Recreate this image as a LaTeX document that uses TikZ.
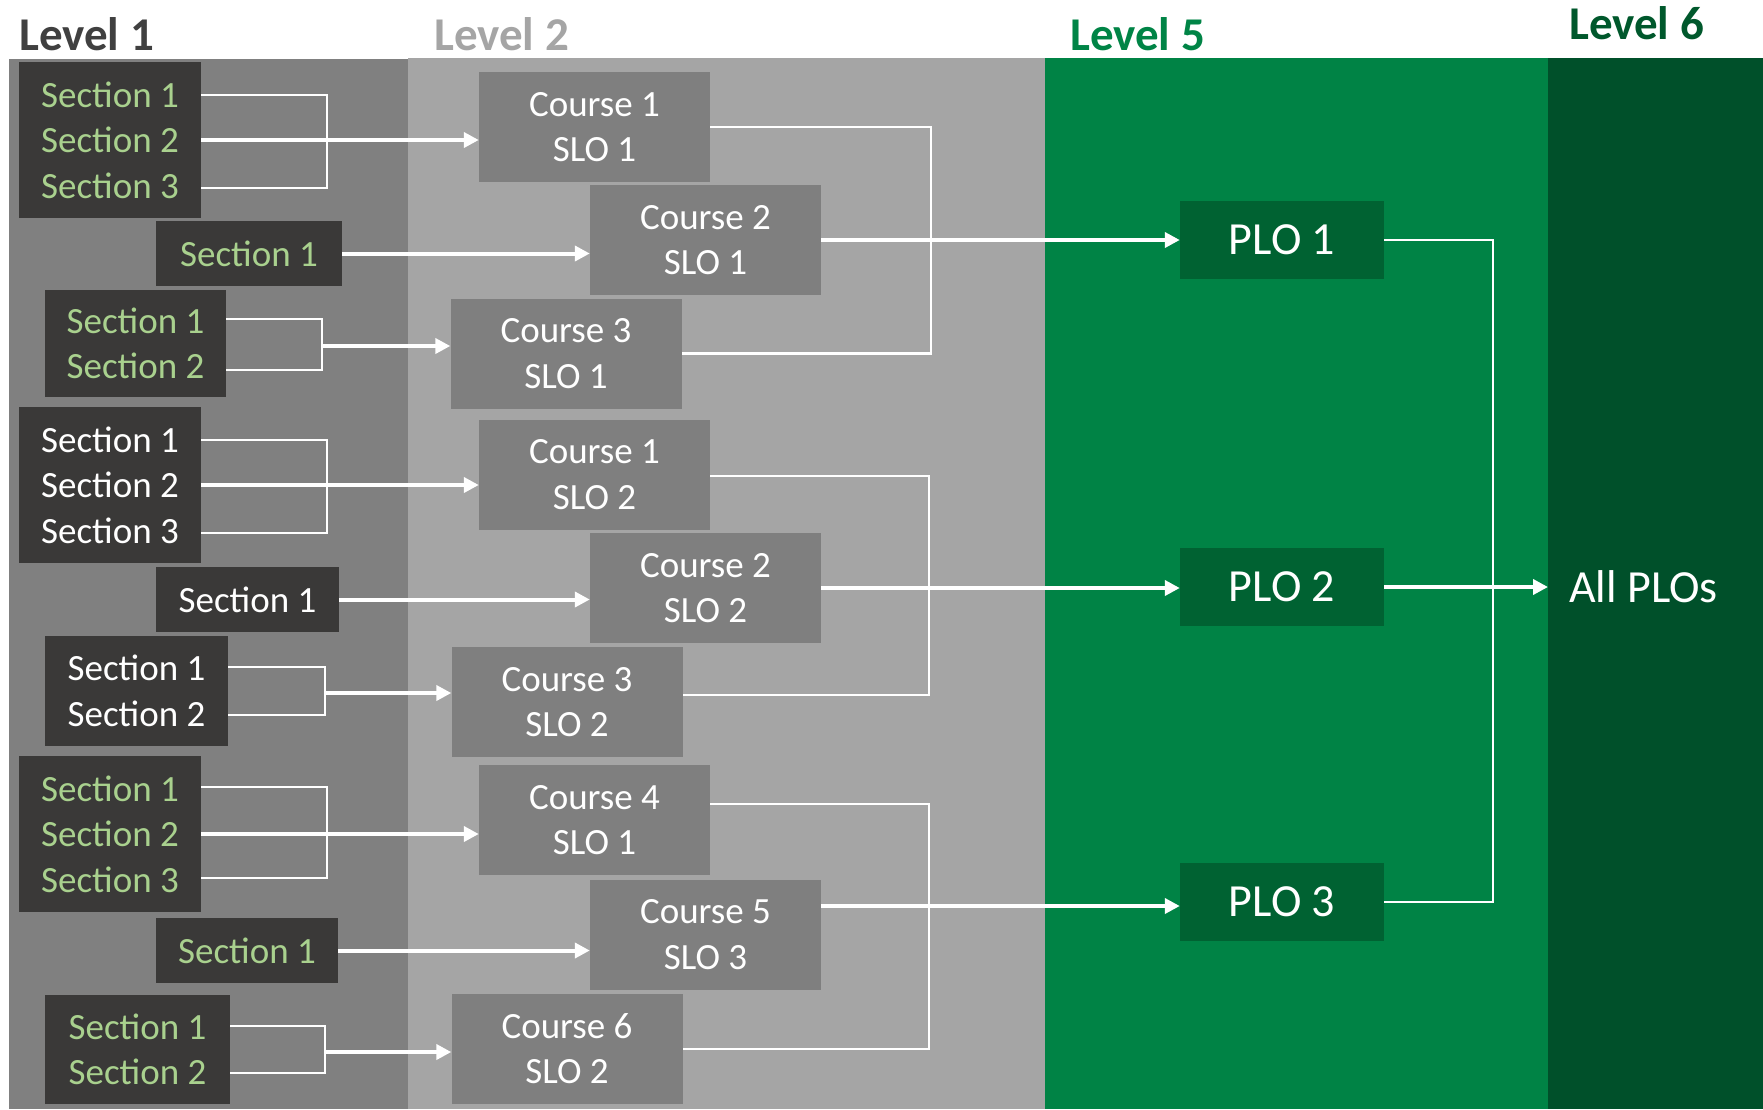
\documentclass[tikz,border=0pt]{standalone}
\usepackage{fontspec}
\setmainfont{Carlito}
\usetikzlibrary{arrows.meta}
\definecolor{bandA}{RGB}{128,128,128}
\definecolor{bandB}{RGB}{165,165,165}
\definecolor{bandC}{RGB}{0,131,69}
\definecolor{bandD}{RGB}{0,80,42}
\definecolor{secfill}{RGB}{58,57,56}
\definecolor{secgreen}{RGB}{169,209,142}
\definecolor{coursefill}{RGB}{127,127,127}
\definecolor{plofill}{RGB}{0,98,50}
\definecolor{titleA}{RGB}{64,64,64}
\definecolor{titleB}{RGB}{165,165,165}
\definecolor{titleC}{RGB}{0,132,70}
\definecolor{titleD}{RGB}{0,88,44}
\newcommand\myboxfont{\fontsize{37}{45.5}\selectfont}
\newcommand\myplofont{\fontsize{46}{55}\selectfont}
\newcommand\mytitlefont{\fontsize{47}{56}\selectfont\bfseries}
\begin{document}
\begin{tikzpicture}[x=1pt,y=-1pt,
  secbox/.style={fill=secfill,inner sep=0pt,align=center,font=\myboxfont,text=secgreen},
  secwhite/.style={secbox,text=white},
  coursebox/.style={fill=coursefill,inner sep=0pt,align=center,font=\myboxfont,text=white,minimum width=231pt,minimum height=110pt},
  plobox/.style={fill=plofill,inner sep=0pt,font=\myplofont,text=white,minimum width=204pt,minimum height=78pt},
  titletext/.style={anchor=base west,inner sep=0pt,font=\mytitlefont},
  thinln/.style={draw=white,line width=2.5pt},
  arr/.style={draw=white,line width=4pt,-{Triangle[length=15pt,width=15pt]}}]
\useasboundingbox (0,0) rectangle (1763,1109);
\fill[white] (0,0) rectangle (1763,1109);
% bands
\fill[bandA] (9,59) rectangle (408,1109);
\fill[bandB] (408,58) rectangle (1045,1109);
\fill[bandC] (1045,58) rectangle (1548,1109);
\fill[bandD] (1548,58) rectangle (1763,1109);
% titles
\node[titletext,text=titleA] (t1) at (19,50) {Level 1};
\node[titletext,text=titleB] (t2) at (434,50) {Level 2};
\node[titletext,text=titleC] (t5) at (1070,50) {Level 5};
\node[titletext,text=titleD] (t6) at (1569,39) {Level 6};
% ---- group A sections
\node[secbox,minimum width=182pt,minimum height=156pt] (sA3) at (110,140) {Section 1\\Section 2\\Section 3};
\node[secbox,minimum width=186pt,minimum height=65pt] (sA1) at (249,253.5) {Section 1};
\node[secbox,minimum width=181pt,minimum height=107pt] (sA2) at (135.5,343.5) {Section 1\\Section 2};
% ---- group B sections
\node[secwhite,minimum width=182pt,minimum height=156pt] (sB3) at (110,485) {Section 1\\Section 2\\Section 3};
\node[secwhite,minimum width=183pt,minimum height=65pt] (sB1) at (247.5,599.5) {Section 1};
\node[secwhite,minimum width=183pt,minimum height=110pt] (sB2) at (136.5,691) {Section 1\\Section 2};
% ---- group C sections
\node[secbox,minimum width=182pt,minimum height=156pt] (sC3) at (110,834) {Section 1\\Section 2\\Section 3};
\node[secbox,minimum width=182pt,minimum height=65pt] (sC1) at (247,950.5) {Section 1};
\node[secbox,minimum width=185pt,minimum height=109pt] (sC2) at (137.5,1049.5) {Section 1\\Section 2};
% ---- courses
\node[coursebox] (cA1) at (594.5,127) {Course 1\\SLO 1};
\node[coursebox] (cA2) at (705.5,240) {Course 2\\SLO 1};
\node[coursebox] (cA3) at (566,353.5) {Course 3\\SLO 1};
\node[coursebox] (cB1) at (594.5,474.5) {Course 1\\SLO 2};
\node[coursebox] (cB2) at (705.5,588) {Course 2\\SLO 2};
\node[coursebox] (cB3) at (567,702) {Course 3\\SLO 2};
\node[coursebox] (cC1) at (594.5,820) {Course 4\\SLO 1};
\node[coursebox] (cC2) at (705.5,934.5) {Course 5\\SLO 3};
\node[coursebox] (cC3) at (567,1048.5) {Course 6\\SLO 2};
% ---- PLOs
\node[plobox] (p1) at (1282,240) {PLO 1};
\node[plobox] (p2) at (1282,587) {PLO 2};
\node[plobox] (p3) at (1282,902) {PLO 3};
\node[anchor=west,inner xsep=21pt,inner ysep=0pt,font=\myplofont,text=white] (all) at (1548,587) {All PLOs};
% ---- bracket coordinates
\coordinate (bA3t) at (327,95);  \coordinate (bA3b) at (327,188);
\coordinate (bA2t) at (322,319); \coordinate (bA2b) at (322,370); \coordinate (bA2m) at (322,346);
\coordinate (bB3t) at (327,440); \coordinate (bB3b) at (327,533);
\coordinate (bB2t) at (325,667); \coordinate (bB2b) at (325,715); \coordinate (bB2m) at (325,693);
\coordinate (bC3t) at (327,787); \coordinate (bC3b) at (327,878);
\coordinate (bC2t) at (325,1026); \coordinate (bC2b) at (325,1073); \coordinate (bC2m) at (325,1052);
\coordinate (kAt) at (931,127); \coordinate (kAb) at (931,353.5);
\coordinate (kBt) at (929,476); \coordinate (kBb) at (929,695);
\coordinate (kCt) at (929,804); \coordinate (kCb) at (929,1049);
\coordinate (pC) at (1384,906);
\coordinate (qt) at (1493,240); \coordinate (qb) at (1493,902);
% ---- section brackets and arrows, group A
\draw[thinln] (bA3t -| sA3.east) -- (bA3t) -- (bA3b) -- (bA3b -| sA3.east);
\draw[arr] (sA3.east) -- (sA3.east -| cA1.west);
\draw[arr] (sA1.east) -- (sA1.east -| cA2.west);
\draw[thinln] (bA2t -| sA2.east) -- (bA2t) -- (bA2b) -- (bA2b -| sA2.east);
\draw[arr] (bA2m) -- (bA2m -| cA3.west);
% group B
\draw[thinln] (bB3t -| sB3.east) -- (bB3t) -- (bB3b) -- (bB3b -| sB3.east);
\draw[arr] (sB3.east) -- (sB3.east -| cB1.west);
\draw[arr] (sB1.east) -- (sB1.east -| cB2.west);
\draw[thinln] (bB2t -| sB2.east) -- (bB2t) -- (bB2b) -- (bB2b -| sB2.east);
\draw[arr] (bB2m) -- (bB2m -| cB3.west);
% group C
\draw[thinln] (bC3t -| sC3.east) -- (bC3t) -- (bC3b) -- (bC3b -| sC3.east);
\draw[arr] (sC3.east) -- (sC3.east -| cC1.west);
\draw[arr] (sC1.east) -- (sC1.east -| cC2.west);
\draw[thinln] (bC2t -| sC2.east) -- (bC2t) -- (bC2b) -- (bC2b -| sC2.east);
\draw[arr] (bC2m) -- (bC2m -| cC3.west);
% ---- course brackets and arrows to PLOs
\draw[thinln] (kAt -| cA1.east) -- (kAt) -- (kAb) -- (kAb -| cA3.east);
\draw[arr] (cA2.east) -- (cA2.east -| p1.west);
\draw[thinln] (kBt -| cB1.east) -- (kBt) -- (kBb) -- (kBb -| cB3.east);
\draw[arr] (cB2.east) -- (cB2.east -| p2.west);
\draw[thinln] (kCt -| cC1.east) -- (kCt) -- (kCb) -- (kCb -| cC3.east);
\draw[arr] (pC -| cC2.east) -- (pC -| p3.west);
% ---- PLO bracket and arrow to all PLOs
\draw[thinln] (p1.east) -- (qt) -- (qb) -- (p3.east);
\draw[arr] (p2.east) -- (all.west);
\end{tikzpicture}
\end{document}
